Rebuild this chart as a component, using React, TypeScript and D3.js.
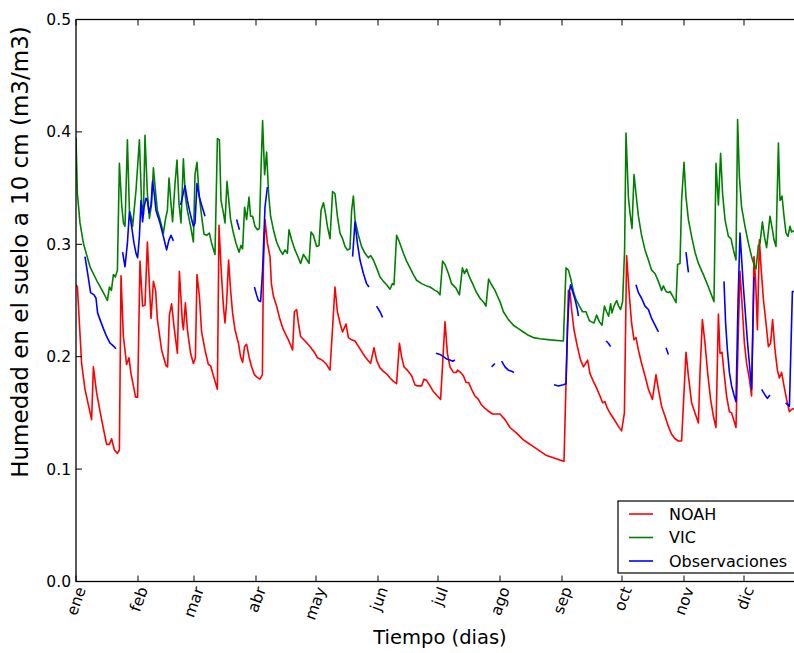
import React from "react";
import * as d3 from "d3";

// ---------- data ----------
const MONTHS = ["ene", "feb", "mar", "abr", "may", "jun", "jul", "ago", "sep", "oct", "nov", "dic"];
const MONTH_START_DAYS = [0, 31, 59, 90, 120, 151, 181, 212, 243, 273, 304, 334];
const Y_TICKS = [0.0, 0.1, 0.2, 0.3, 0.4, 0.5];

// NOAH model: [day of year, soil moisture m3/m3]
const NOAH: [number, number][] = [
  [0, 0.264], [0.7, 0.262], [1.7, 0.23], [2.8, 0.194], [4.5, 0.171], [7.8, 0.144], [8.7, 0.191],
  [10.3, 0.168], [12.8, 0.144], [15.3, 0.122], [16.7, 0.122], [17.8, 0.127], [19.2, 0.117],
  [20.7, 0.114], [21.7, 0.117], [22.5, 0.272], [23.7, 0.218], [25.3, 0.193], [26.5, 0.199],
  [27.5, 0.185], [29.8, 0.164], [30.8, 0.164], [32, 0.285], [33.3, 0.245], [34.5, 0.246],
  [35.7, 0.302], [36.5, 0.271], [37.5, 0.234], [38.7, 0.267], [39.8, 0.259], [40.7, 0.233],
  [42.8, 0.206], [45, 0.192], [45.8, 0.191], [46.7, 0.237], [47.8, 0.247], [49, 0.227],
  [50.7, 0.203], [51.7, 0.276], [53.2, 0.23], [53.7, 0.224], [54.7, 0.248], [55.7, 0.224],
  [57.3, 0.203], [58.7, 0.194], [59.7, 0.199], [60.5, 0.273], [61.7, 0.254], [62.8, 0.222],
  [64.5, 0.206], [66.2, 0.193], [67.3, 0.192], [68.7, 0.183], [70.7, 0.171], [71.5, 0.317],
  [72.5, 0.28], [73.7, 0.245], [74.5, 0.23], [75.3, 0.248], [76.3, 0.286], [77.3, 0.259],
  [78.3, 0.239], [79.5, 0.224], [81.2, 0.212], [82.3, 0.2], [83.3, 0.195], [84.3, 0.209],
  [85.3, 0.211], [86.5, 0.2], [87.8, 0.191], [89.2, 0.184], [90.3, 0.182], [92, 0.18],
  [93.2, 0.184], [93.7, 0.28], [94.5, 0.322], [95.7, 0.301], [97, 0.289], [97.7, 0.265],
  [98.7, 0.254], [100.3, 0.245], [102, 0.233], [103.7, 0.224], [106.2, 0.215], [108.3, 0.206],
  [109.2, 0.24], [110.3, 0.242], [111.2, 0.23], [112.3, 0.218], [114.5, 0.214], [117, 0.209],
  [119.5, 0.203], [120.7, 0.199], [122, 0.198], [123.7, 0.196], [125.3, 0.193], [127, 0.188],
  [129.5, 0.262], [130.7, 0.24], [132, 0.23], [133.3, 0.222], [135, 0.229], [136.2, 0.217],
  [137.8, 0.215], [139.5, 0.214], [142, 0.207], [144.5, 0.2], [147.3, 0.194], [149, 0.208],
  [150.3, 0.197], [152, 0.19], [153.7, 0.187], [155.7, 0.184], [157, 0.181], [158.7, 0.178],
  [160.3, 0.176], [161.7, 0.212], [162.8, 0.2], [164, 0.191], [165.7, 0.188], [167.8, 0.183],
  [169.5, 0.175], [170.7, 0.174], [172.8, 0.174], [174, 0.18], [175.3, 0.179], [177, 0.174],
  [178.7, 0.169], [180.7, 0.165], [182.3, 0.162], [184.5, 0.231], [185.7, 0.203], [187, 0.191],
  [188.7, 0.186], [190, 0.186], [190.8, 0.188], [192.3, 0.186], [193.7, 0.183], [195, 0.177],
  [196.3, 0.177], [197.8, 0.171], [199.5, 0.165], [201.2, 0.162], [202.8, 0.157], [204.5, 0.154],
  [206.7, 0.151], [208.3, 0.149], [212, 0.149], [214.5, 0.144], [217, 0.137], [220.3, 0.132],
  [223.7, 0.126], [226.2, 0.123], [228.7, 0.12], [232, 0.116], [235.3, 0.112], [238.7, 0.11],
  [242, 0.108], [244, 0.107], [246.2, 0.259], [247, 0.257], [247.8, 0.242], [249, 0.224],
  [250.7, 0.209], [252.3, 0.197], [253.7, 0.191], [254.8, 0.194], [255.8, 0.197], [257, 0.185],
  [258.7, 0.178], [260.3, 0.172], [262, 0.165], [263.3, 0.159], [264.5, 0.16], [265.7, 0.154],
  [267.3, 0.149], [269.5, 0.143], [271.2, 0.138], [272.8, 0.134], [274.2, 0.15], [275.3, 0.29],
  [276.7, 0.254], [277.8, 0.23], [279, 0.215], [280, 0.217], [281.2, 0.206], [282.8, 0.194],
  [284.5, 0.183], [286.2, 0.171], [288.2, 0.162], [290, 0.184], [291.2, 0.171], [292.8, 0.156],
  [294.5, 0.147], [296.2, 0.138], [297.8, 0.131], [299.5, 0.127], [301.2, 0.125], [302.8, 0.125],
  [304, 0.168], [305, 0.204], [306.2, 0.183], [307.8, 0.159], [309.5, 0.15], [311.2, 0.141],
  [312, 0.186], [313.2, 0.233], [314.5, 0.212], [315.8, 0.186], [317.3, 0.162], [318.7, 0.147],
  [320, 0.137], [321.2, 0.238], [322, 0.203], [323, 0.204], [324.2, 0.183], [325.3, 0.165],
  [326.7, 0.151], [327.8, 0.15], [329, 0.143], [330, 0.137], [331.2, 0.224], [332, 0.276],
  [333.2, 0.242], [334.2, 0.212], [335.3, 0.194], [336.7, 0.18], [337.8, 0.165], [339, 0.289],
  [339.8, 0.268], [340.7, 0.224], [341.7, 0.304], [342.5, 0.28], [343.7, 0.251], [345, 0.23],
  [346.2, 0.209], [347.3, 0.212], [348.3, 0.233], [349.5, 0.206], [350.7, 0.188], [351.7, 0.181],
  [352.8, 0.186], [354, 0.174], [355.3, 0.162], [356.7, 0.151], [357.8, 0.153], [359, 0.154],
  [362, 0.156],
];

// VIC model
const VIC: [number, number][] = [
  [0, 0.395], [0.7, 0.345], [2, 0.319], [3.7, 0.301], [7, 0.28], [10.3, 0.268], [13.7, 0.257],
  [15.7, 0.25], [16.7, 0.262], [17.7, 0.259], [18.7, 0.273], [19.7, 0.271], [20.7, 0.277],
  [21.7, 0.372], [22.8, 0.336], [23.7, 0.319], [24.5, 0.316], [25.7, 0.393], [26.7, 0.33],
  [27.5, 0.325], [28.3, 0.316], [30, 0.348], [31.7, 0.393], [32.8, 0.336], [33.7, 0.326],
  [34.5, 0.397], [35.7, 0.345], [36.7, 0.323], [37.8, 0.336], [38.7, 0.368], [39.7, 0.348],
  [40.7, 0.33], [42, 0.322], [43.7, 0.31], [44.8, 0.323], [45.7, 0.33], [46.5, 0.359],
  [47.5, 0.336], [48.3, 0.32], [49.5, 0.354], [50.5, 0.375], [51.5, 0.336], [52.5, 0.319],
  [53.7, 0.376], [54.7, 0.342], [55.7, 0.33], [57.3, 0.316], [58.7, 0.302], [59.5, 0.362],
  [60.5, 0.373], [61.5, 0.345], [62.8, 0.325], [64, 0.309], [65.3, 0.308], [66.7, 0.31],
  [67.8, 0.301], [69.5, 0.291], [70.7, 0.394], [71.7, 0.393], [72.5, 0.339], [73.7, 0.328],
  [74.5, 0.319], [75.5, 0.356], [76.3, 0.341], [77.3, 0.322], [78.7, 0.31], [80, 0.301],
  [81.5, 0.293], [82.5, 0.299], [83.3, 0.296], [84.3, 0.333], [85.3, 0.322], [86.5, 0.342],
  [87.3, 0.325], [88.3, 0.325], [89.5, 0.316], [90.7, 0.313], [91.7, 0.314], [92.5, 0.366],
  [93.3, 0.41], [94.3, 0.362], [95.3, 0.382], [96.3, 0.345], [97.3, 0.325], [98.7, 0.313],
  [100.3, 0.302], [102, 0.295], [103.3, 0.291], [104.5, 0.295], [105.7, 0.292], [106.5, 0.313],
  [107.8, 0.304], [109.5, 0.295], [111.2, 0.288], [112.3, 0.283], [113.7, 0.291], [114.8, 0.288],
  [116.5, 0.283], [117.5, 0.311], [118.7, 0.308], [120.3, 0.298], [121.5, 0.299], [122.5, 0.33],
  [123.7, 0.337], [124.7, 0.328], [125.7, 0.316], [127, 0.305], [128.3, 0.347], [129.5, 0.345],
  [130.7, 0.325], [132, 0.31], [133.3, 0.305], [134.5, 0.298], [135.7, 0.295], [137, 0.296],
  [137.8, 0.33], [138.7, 0.343], [139.5, 0.322], [141.2, 0.308], [142.8, 0.298], [144.5, 0.292],
  [146.2, 0.288], [147.3, 0.29], [148.7, 0.286], [150.3, 0.279], [152, 0.271], [153.7, 0.267],
  [155.3, 0.264], [157, 0.26], [158.2, 0.265], [159, 0.264], [160.3, 0.308], [161.7, 0.302],
  [163.7, 0.292], [165.3, 0.285], [167, 0.279], [168.7, 0.273], [170.3, 0.268], [172.8, 0.265],
  [175.3, 0.263], [177, 0.262], [179.5, 0.259], [180.7, 0.258], [182, 0.255], [183.3, 0.285],
  [184.5, 0.282], [186.2, 0.274], [187.8, 0.265], [190, 0.261], [191.7, 0.255], [193.2, 0.279],
  [194.2, 0.274], [195.3, 0.278], [196.7, 0.271], [198.3, 0.265], [200, 0.258], [202, 0.252],
  [204, 0.248], [205, 0.245], [206.3, 0.269], [207.8, 0.264], [209.5, 0.259], [210.7, 0.254],
  [212, 0.249], [213.7, 0.24], [216.2, 0.233], [218.7, 0.228], [221.2, 0.225], [223.7, 0.222],
  [226.2, 0.219], [228.7, 0.217], [232, 0.216], [237, 0.215], [243.7, 0.214], [245, 0.279],
  [246.2, 0.277], [247.3, 0.27], [248.7, 0.258], [250, 0.251], [251.7, 0.245], [253.3, 0.24],
  [255, 0.24], [256.7, 0.232], [257.8, 0.231], [259, 0.23], [260.3, 0.237], [261.7, 0.231],
  [263, 0.228], [264.2, 0.245], [265.3, 0.24], [266.3, 0.236], [267.3, 0.247], [268, 0.239],
  [269, 0.245], [270.3, 0.25], [271.3, 0.245], [272.3, 0.242], [273.3, 0.249], [274.3, 0.295],
  [275, 0.399], [276.2, 0.342], [277, 0.328], [278, 0.314], [279, 0.362], [280, 0.345],
  [281.2, 0.325], [282.8, 0.308], [284.5, 0.295], [286.2, 0.286], [287.8, 0.277], [289.5, 0.274],
  [291.2, 0.267], [292.8, 0.259], [293.7, 0.263], [295, 0.258], [296.2, 0.257], [297, 0.258],
  [298.3, 0.254], [300, 0.248], [300.8, 0.282], [302, 0.283], [302.8, 0.339], [304, 0.373],
  [305, 0.342], [306.2, 0.322], [307.8, 0.307], [309.5, 0.293], [311.2, 0.283], [313.7, 0.273],
  [316.2, 0.262], [319, 0.249], [320, 0.372], [321.2, 0.335], [322.3, 0.381], [323.3, 0.345],
  [324.5, 0.322], [326.2, 0.307], [327.5, 0.305], [328.7, 0.295], [330, 0.286], [330.8, 0.411],
  [331.7, 0.36], [332.8, 0.333], [334.5, 0.316], [336.2, 0.301], [337.8, 0.289], [339, 0.282],
  [340, 0.278], [341.2, 0.299], [342, 0.301], [343.2, 0.32], [344.2, 0.307], [345.3, 0.297],
  [347, 0.325], [348.2, 0.313], [349, 0.304], [350, 0.298], [351.2, 0.39], [352, 0.339],
  [353, 0.343], [354, 0.325], [355, 0.31], [356, 0.307], [357, 0.316], [357.8, 0.311],
  [359, 0.312], [362, 0.31],
];

// Observations (gaps = separate segments)
const OBS_SEGMENTS: [number, number][][] = [
  [[4.5, 0.289], [6.2, 0.27], [7.3, 0.257], [9, 0.255], [10, 0.252], [10.8, 0.239], [12, 0.233],
   [13.7, 0.225], [15.3, 0.218], [17, 0.212], [17.8, 0.211], [19, 0.209], [20, 0.207]],
  [[23.3, 0.293], [24.5, 0.28], [25.7, 0.301], [26.7, 0.329], [27.8, 0.316], [29, 0.301],
   [30, 0.292], [30.8, 0.288], [31.7, 0.307], [32.5, 0.339], [33.3, 0.32], [34, 0.333],
   [35, 0.341], [35.7, 0.339], [36.5, 0.328], [37.5, 0.335], [38.3, 0.356], [39.2, 0.344],
   [40, 0.33], [42, 0.319], [43.7, 0.307], [45.3, 0.295], [46.5, 0.304], [47.5, 0.308], [48.7, 0.303]],
  [[52.3, 0.335], [54.5, 0.352], [55.7, 0.339], [57, 0.328], [58.7, 0.316], [59.5, 0.319],
   [60.5, 0.354], [61.7, 0.342], [62.8, 0.335], [64.5, 0.325]],
  [[80.3, 0.322], [81.7, 0.313]],
  [[89.2, 0.262], [90.3, 0.255], [91.2, 0.25], [92.3, 0.249], [93.3, 0.277], [94.5, 0.333], [95.7, 0.351]],
  [[138.3, 0.289], [139.5, 0.32], [140.7, 0.301], [142, 0.286], [143.7, 0.274], [145.3, 0.265], [146.5, 0.262]],
  [[150.3, 0.245], [152, 0.24], [153.3, 0.235]],
  [[180, 0.203], [182, 0.202], [183.7, 0.2], [185.3, 0.198], [187, 0.197], [188.3, 0.196], [189.5, 0.197]],
  [[207.8, 0.191], [209.5, 0.194]],
  [[212.8, 0.196], [214.5, 0.191], [216.2, 0.188], [217.8, 0.187], [219, 0.186]],
  [[239, 0.175], [241.2, 0.174], [243.7, 0.175], [245, 0.176], [245.8, 0.227], [246.7, 0.258],
   [247.3, 0.264], [248.3, 0.258], [249.5, 0.251], [250.7, 0.242], [251.2, 0.236]],
  [[265, 0.214], [266.2, 0.212], [267.3, 0.209]],
  [[280, 0.264], [281.2, 0.257], [282.8, 0.252], [284.5, 0.245], [286.2, 0.242], [287.8, 0.234],
   [289.5, 0.228], [291.2, 0.222]],
  [[295, 0.208], [296.2, 0.202]],
  [[305, 0.293], [306.2, 0.275]],
  [[324, 0.267], [324.8, 0.23], [325.7, 0.206], [326.7, 0.186], [327.8, 0.174], [329, 0.166],
   [330, 0.16], [331, 0.248], [332, 0.31], [333.7, 0.262], [335.7, 0.214], [337.8, 0.171], [339, 0.271]],
  [[342.8, 0.171], [344.5, 0.166], [345.7, 0.163], [347, 0.166]],
  [[354.8, 0.159], [356.7, 0.156], [358.2, 0.258], [359, 0.258], [362, 0.258]],
];

const SERIES_NAMES = ["NOAH", "VIC", "Observaciones"];
const SERIES_COLORS = ["#ff0000", "#008000", "#0000ff"];

// ---------- layout ----------
const W = 794;
const H = 653;
const PLOT_L = 76;
const PLOT_R = 806;
const PLOT_T = 19.5;
const PLOT_B = 581.5;
const FONT = "'DejaVu Sans', 'Bitstream Vera Sans', sans-serif";

export default function App() {
  const x = d3.scaleLinear().domain([0, 365]).range([PLOT_L, PLOT_R]);
  const y = d3.scaleLinear().domain([0, 0.5]).range([PLOT_B, PLOT_T]);
  const line = d3
    .line<[number, number]>()
    .x((d) => x(d[0]))
    .y((d) => y(d[1]));

  const tickLen = 6;

  return (
    <svg
      width={W}
      height={H}
      style={{ position: "absolute", left: 0, top: 0, background: "#fff" }}
      fontFamily={FONT}
    >
      <rect x={0} y={0} width={W} height={H} fill="#fff" />
      <defs>
        <clipPath id="plotclip">
          <rect x={PLOT_L} y={PLOT_T} width={PLOT_R - PLOT_L} height={PLOT_B - PLOT_T} />
        </clipPath>
      </defs>

      <g clipPath="url(#plotclip)" fill="none" strokeWidth={1.6} strokeLinejoin="round">
        <path d={line(NOAH) || ""} stroke={SERIES_COLORS[0]} />
        <path d={line(VIC) || ""} stroke={SERIES_COLORS[1]} />
        {OBS_SEGMENTS.map((seg, i) => (
          <path key={i} d={line(seg) || ""} stroke={SERIES_COLORS[2]} />
        ))}
      </g>

      {/* spines */}
      <rect
        x={PLOT_L}
        y={PLOT_T}
        width={PLOT_R - PLOT_L}
        height={PLOT_B - PLOT_T}
        fill="none"
        stroke="#000"
        strokeWidth={1.3}
      />

      {/* y ticks */}
      {Y_TICKS.map((t) => (
        <g key={"y" + t}>
          <line x1={PLOT_L} x2={PLOT_L + tickLen} y1={y(t)} y2={y(t)} stroke="#000" strokeWidth={1} />
          <line x1={PLOT_R} x2={PLOT_R - tickLen} y1={y(t)} y2={y(t)} stroke="#000" strokeWidth={1} />
          <text
            x={PLOT_L - 5}
            y={y(t)}
            dy="0.36em"
            textAnchor="end"
            fontSize={15.5}
            fill="#000"
          >
            {t.toFixed(1)}
          </text>
        </g>
      ))}

      {/* x ticks */}
      {MONTH_START_DAYS.map((d, i) => (
        <g key={"x" + d}>
          <line x1={x(d)} x2={x(d)} y1={PLOT_B} y2={PLOT_B - tickLen} stroke="#000" strokeWidth={1} />
          <line x1={x(d)} x2={x(d)} y1={PLOT_T} y2={PLOT_T + tickLen} stroke="#000" strokeWidth={1} />
          <text
            transform={`translate(${x(d) + 5},${PLOT_B + 6}) rotate(-70)`}
            textAnchor="end"
            dy="0.35em"
            fontSize={15.5}
            fill="#000"
          >
            {MONTHS[i]}
          </text>
        </g>
      ))}

      {/* axis labels */}
      <text x={440} y={644} textAnchor="middle" fontSize={19.5} fill="#000">
        Tiempo (dias)
      </text>
      <text
        transform={`translate(28,252) rotate(-90)`}
        textAnchor="middle"
        fontSize={23}
        fill="#000"
      >
        Humedad en el suelo a 10 cm (m3/m3)
      </text>

      {/* legend */}
      <g>
        <rect x={618} y={501} width={184} height={72} fill="#fff" stroke="#000" strokeWidth={1.2} />
        {SERIES_NAMES.map((name, i) => (
          <g key={name}>
            <line
              x1={629}
              x2={653}
              y1={514 + i * 23.5}
              y2={514 + i * 23.5}
              stroke={SERIES_COLORS[i]}
              strokeWidth={1.6}
            />
            <text x={669} y={514 + i * 23.5} dy="0.36em" fontSize={16} fill="#000">
              {name}
            </text>
          </g>
        ))}
      </g>
    </svg>
  );
}
